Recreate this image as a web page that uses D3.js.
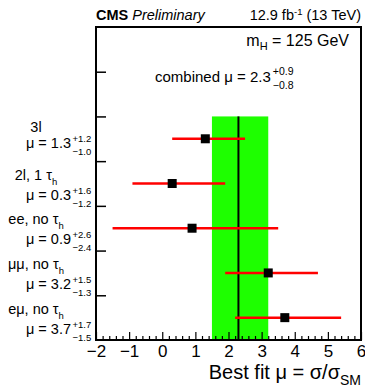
<!DOCTYPE html>
<html>
<head>
<meta charset="utf-8">
<script src="https://cdn.jsdelivr.net/npm/d3@7"></script>
<style>
body { margin: 0; background: #fff; }
text { font-family: "Liberation Sans", Arial, sans-serif; fill: #000; }
</style>
</head>
<body>
<div id="chart-area"></div>
<script>

// channels, top to bottom
var labelMain = ["3l", "2l, 1 τ", "ee, no τ", "μμ, no τ", "eμ, no τ"];
var labelSub  = ["", "h", "h", "h", "h"];
var mu        = [1.3, 0.3, 0.9, 3.2, 3.7];
var errUp     = [1.2, 1.6, 2.6, 1.5, 1.7];
var errDown   = [1.0, 1.2, 2.4, 1.3, 1.5];

// combined result
var muComb = 2.3, muCombUp = 0.9, muCombDown = 0.8;

var xTicks = [-2, -1, 0, 1, 2, 3, 4, 5, 6];
var yTicks = [1, 2, 3, 4, 5, 6];

var W = 365, H = 390;
var frame = { left: 96, right: 361, top: 27, bottom: 340 };

var svg = d3.select("#chart-area")
    .append("svg")
        .attr("width", W)
        .attr("height", H);

var x = d3.scaleLinear()
    .domain([-2, 6])
    .range([frame.left, frame.right]);

var y = d3.scaleLinear()
    .domain([0, 7])
    .range([frame.bottom, frame.top]);

// rows sit in the lower five units
var rows = d3.scaleBand()
    .domain(d3.range(labelMain.length))
    .range([y(5), y(0)]);

function rowY(i) { return rows(i) + rows.bandwidth() / 2; }

var f1 = d3.format(".1f");

// Green band (combined uncertainty)
svg.append("rect")
    .attr("x", x(muComb - muCombDown))
    .attr("y", y(5))
    .attr("width", x(muComb + muCombUp) - x(muComb - muCombDown))
    .attr("height", y(0) - y(5))
    .attr("fill", "#1eff00");

// combined value line
svg.append("line")
    .attr("x1", x(muComb)).attr("x2", x(muComb))
    .attr("y1", y(5)).attr("y2", y(0))
    .attr("stroke", "#000")
    .attr("stroke-width", 2);

// Error bars
svg.selectAll("line.err")
    .data(mu)
    .enter()
    .append("line")
        .attr("class", "err")
        .attr("x1", function(d, i) { return x(d - errDown[i]); })
        .attr("x2", function(d, i) { return x(d + errUp[i]); })
        .attr("y1", function(d, i) { return rowY(i); })
        .attr("y2", function(d, i) { return rowY(i); })
        .attr("stroke", "#ff0000")
        .attr("stroke-width", 2.5);

// Markers
var ms = 9;
svg.selectAll("rect.pt")
    .data(mu)
    .enter()
    .append("rect")
        .attr("class", "pt")
        .attr("x", function(d) { return x(d) - ms / 2; })
        .attr("y", function(d, i) { return rowY(i) - ms / 2; })
        .attr("width", ms)
        .attr("height", ms)
        .attr("fill", "#000");

// X Axis: major + minor ticks pointing inward
var xAxisCall = d3.axisBottom(x)
    .tickValues(xTicks)
    .tickSizeInner(-8)
    .tickSizeOuter(0)
    .tickPadding(5);
var xAxis = svg.append("g")
    .attr("class", "x axis")
    .attr("transform", "translate(0," + frame.bottom + ")")
    .call(xAxisCall);
xAxis.select(".domain").remove();
xAxis.selectAll("text")
    .attr("font-size", "17px")
    .attr("font-family", "Liberation Sans, Arial, sans-serif");
xAxis.selectAll("line").attr("stroke-width", 1.2);

var minor = d3.range(-2, 6.001, 0.2).filter(function(v) {
    return Math.abs(v - Math.round(v)) > 1e-6;
});
var xMinor = svg.append("g")
    .attr("transform", "translate(0," + frame.bottom + ")")
    .call(d3.axisBottom(x).tickValues(minor).tickSizeInner(-4).tickSizeOuter(0).tickFormat(""));
xMinor.select(".domain").remove();
xMinor.selectAll("line").attr("stroke-width", 1.2);

// Y Axis ticks (no labels)
var yAxis = svg.append("g")
    .attr("class", "y axis")
    .attr("transform", "translate(" + frame.left + ",0)")
    .call(d3.axisRight(y).tickValues(yTicks).tickSizeInner(10).tickSizeOuter(0).tickFormat(""));
yAxis.select(".domain").remove();
yAxis.selectAll("line").attr("stroke-width", 1.5);

// Frame
svg.append("rect")
    .attr("x", frame.left)
    .attr("y", frame.top)
    .attr("width", frame.right - frame.left)
    .attr("height", frame.bottom - frame.top)
    .attr("fill", "none")
    .attr("stroke", "#000")
    .attr("stroke-width", 2);

// Row labels
labelMain.forEach(function(name, i) {
    var c = rowY(i);
    var hasSub = labelSub[i] !== "";
    var y1 = c + (hasSub ? -4 : -6.5);
    var y2 = c + (hasSub ? 16 : 9.5);

    var t1 = svg.append("text")
        .attr("x", 36)
        .attr("y", y1)
        .attr("text-anchor", "middle")
        .attr("font-size", "14.5px")
        .text(name);
    if (hasSub) {
        t1.append("tspan")
            .attr("font-size", "9.5px")
            .attr("dy", 5)
            .text(labelSub[i]);
    }

    svg.append("text")
        .attr("x", 71)
        .attr("y", y2)
        .attr("text-anchor", "end")
        .attr("font-size", "14.5px")
        .text("μ = " + f1(mu[i]));
    svg.append("text")
        .attr("x", 72.5)
        .attr("y", y2 - 6)
        .attr("font-size", "9.5px")
        .text("+" + f1(errUp[i]));
    svg.append("text")
        .attr("x", 72.5)
        .attr("y", y2 + 7)
        .attr("font-size", "9.5px")
        .text("−" + f1(errDown[i]));
});

// Header
var hdr = svg.append("text")
    .attr("x", frame.left)
    .attr("y", 20)
    .attr("font-size", "14.5px");
hdr.append("tspan").attr("font-weight", "bold").text("CMS");
hdr.append("tspan").attr("font-style", "italic").attr("dx", 4).text("Preliminary");

var lumi = svg.append("text")
    .attr("x", frame.right)
    .attr("y", 20)
    .attr("text-anchor", "end")
    .attr("font-size", "14.5px");
lumi.append("tspan").text("12.9 fb");
lumi.append("tspan").attr("font-size", "9.5px").attr("dy", -5).text("-1");
lumi.append("tspan").attr("dy", 5).text(" (13 TeV)");

// mH
var mh = svg.append("text")
    .attr("x", 349)
    .attr("y", 46)
    .attr("text-anchor", "end")
    .attr("font-size", "16px");
mh.append("tspan").text("m");
mh.append("tspan").attr("font-size", "11px").attr("dy", 4).text("H");
mh.append("tspan").attr("dy", -4).text(" = 125 GeV");

// combined mu
var comb = svg.append("text")
    .attr("x", 155)
    .attr("y", 82)
    .attr("font-size", "15px")
    .text("combined μ = " + f1(muComb));
var cEnd = 155 + comb.node().getComputedTextLength() + 2;
svg.append("text")
    .attr("x", cEnd).attr("y", 75)
    .attr("font-size", "10.5px")
    .text("+" + f1(muCombUp));
svg.append("text")
    .attr("x", cEnd).attr("y", 89)
    .attr("font-size", "10.5px")
    .text("−" + f1(muCombDown));

// X Label
var xl = svg.append("text")
    .attr("x", frame.right)
    .attr("y", 379)
    .attr("text-anchor", "end")
    .attr("font-size", "20px");
xl.append("tspan").text("Best fit μ = σ/σ");
xl.append("tspan").attr("font-size", "14px").attr("dy", 6).text("SM");

</script>
</body>
</html>
